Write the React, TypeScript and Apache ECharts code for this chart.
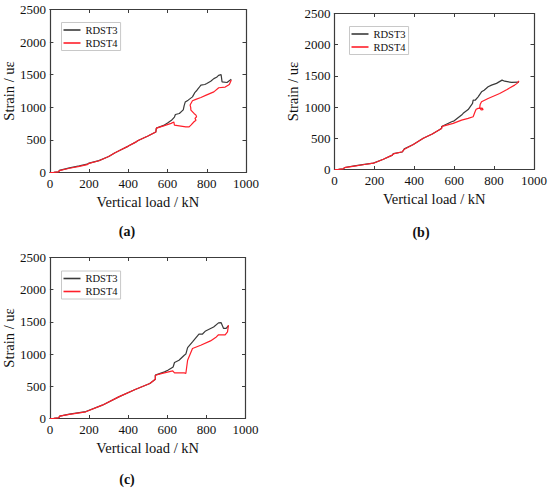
import React, { useEffect, useRef } from "react";
import * as echarts from "echarts";

const seriesNames = ["RDST3", "RDST4"];
const panelLabels = ["(a)", "(b)", "(c)"];
const xTitle = "Vertical load / kN";
const yTitle = "Strain / uε";

// Panel (a): [load kN, strain]
const rdst3A = [
  [0, 0], [20, 3], [45, 10], [48, 32], [100, 72], [150, 102], [190, 128], [200, 145], [250, 182],
  [300, 245], [330, 300], [350, 330], [400, 405], [440, 470], [450, 490], [500, 560], [540, 620],
  [543, 680], [580, 722], [600, 760], [620, 800], [635, 850], [640, 890], [660, 905], [680, 960],
  [685, 1030], [690, 1080], [705, 1110], [727, 1160], [740, 1230], [750, 1262], [760, 1300],
  [770, 1340], [790, 1350], [800, 1366], [820, 1400], [836, 1440], [850, 1460], [860, 1490],
  [873, 1500], [878, 1390], [903, 1380], [925, 1430],
];
const rdst4A = [
  [0, 0], [20, 3], [45, 10], [48, 30], [100, 65], [150, 95], [190, 120], [200, 140], [250, 180],
  [300, 245], [330, 300], [350, 330], [400, 405], [440, 470], [450, 490], [500, 560], [540, 620],
  [543, 680], [580, 715], [618, 753], [632, 775], [635, 727], [668, 712], [693, 700], [710, 700],
  [719, 727], [735, 778], [745, 800], [740, 830], [748, 855], [745, 880], [735, 906], [719, 957],
  [718, 1000], [715, 1034], [727, 1100], [744, 1121], [770, 1150], [800, 1190], [836, 1237],
  [861, 1300], [894, 1310], [915, 1350], [925, 1420],
];

// Panel (b)
const rdst3B = [
  [0, 0], [20, 3], [45, 10], [50, 32], [100, 58], [150, 82], [195, 103], [245, 165], [290, 230],
  [295, 255], [340, 280], [350, 330], [395, 400], [445, 500], [490, 570], [528, 640], [537, 660],
  [537, 690], [587, 765], [600, 780], [637, 872], [645, 900], [670, 960], [692, 1059], [695, 1112],
  [705, 1110], [720, 1165], [737, 1245], [750, 1270], [770, 1325], [787, 1352], [812, 1380],
  [840, 1432], [853, 1415], [887, 1395], [925, 1400],
];
const rdst4B = [
  [0, 0], [20, 3], [45, 10], [50, 30], [100, 55], [150, 80], [195, 101], [245, 165], [290, 230],
  [295, 250], [340, 285], [350, 325], [395, 400], [445, 500], [490, 570], [528, 640], [537, 659],
  [540, 690], [595, 739], [637, 792], [670, 819], [695, 845], [705, 930], [710, 965], [720, 980],
  [740, 985], [745, 960], [735, 955], [728, 990], [730, 1040], [737, 1085], [770, 1139],
  [828, 1219], [865, 1283], [903, 1352], [915, 1380], [925, 1421],
];

// Panel (c)
const rdst3C = [
  [0, 0], [20, 3], [45, 10], [50, 38], [100, 68], [184, 108], [268, 207], [352, 336], [436, 450],
  [511, 543], [539, 610], [539, 673], [586, 724], [603, 750], [630, 800], [637, 870], [660, 905],
  [687, 983], [695, 1000], [704, 1102], [729, 1190], [762, 1309], [779, 1309], [796, 1360],
  [837, 1422], [862, 1485], [875, 1490], [888, 1398], [901, 1398], [913, 1440],
];
const rdst4C = [
  [0, 0], [20, 3], [45, 10], [50, 36], [100, 65], [184, 104], [268, 207], [352, 336], [436, 450],
  [511, 543], [539, 610], [539, 672], [580, 705], [628, 739], [637, 708], [687, 708], [695, 699],
  [704, 905], [729, 1087], [771, 1138], [821, 1205], [851, 1267], [862, 1300], [896, 1300],
  [908, 1345], [913, 1449],
];

const panelData = [
  [rdst3A, rdst4A],
  [rdst3B, rdst4B],
  [rdst3C, rdst4C],
];

const xMin = 0, xMax = 1000, xStep = 200;
const yMin = 0, yMax = 2500, yStep = 500;

const FONT = "'Liberation Serif', 'Times New Roman', serif";
const AXIS_COLOR = "#3c3c3c";
const LINE_COLORS = ["#3a3a3a", "#ff1f2a"];

// layout (page pixel coordinates)
const grids = [
  { left: 47, top: 9.5, width: 199, height: 163 },
  { left: 334.5, top: 13.5, width: 200, height: 156 },
  { left: 46.5, top: 257.5, width: 199, height: 161 },
];
const legendPos = [
  { left: 61.5, top: 22.5 },
  { left: 349.5, top: 26.5 },
  { left: 61.5, top: 271 },
];
const labelPos = [
  { x: 127, y: 231 },
  { x: 421, y: 232 },
  { x: 127, y: 479 },
];

export default function App() {
  const ref = useRef<HTMLDivElement>(null);
  useEffect(() => {
    document.body.style.margin = "0";
    if (!ref.current) return;
    const chart = echarts.init(ref.current, undefined, { renderer: "svg" });

    const xAxis: any[] = [];
    const yAxis: any[] = [];
    const series: any[] = [];
    const legend: any[] = [];
    const fmt = (v: number) => String(v);

    grids.forEach((g, i) => {
      const tick = { show: true, inside: true, length: 3.5, lineStyle: { color: AXIS_COLOR, width: 1 } };
      const line = { show: true, onZero: false, lineStyle: { color: AXIS_COLOR, width: 1.2 } };
      xAxis.push({
        type: "value", gridIndex: i, min: xMin, max: xMax, interval: xStep, position: "bottom",
        axisLine: line, axisTick: tick, splitLine: { show: false },
        axisLabel: { color: "#111", fontFamily: FONT, fontSize: 13, margin: 4, formatter: fmt },
        name: xTitle, nameLocation: "middle", nameGap: 22,
        nameTextStyle: { color: "#111", fontFamily: FONT, fontSize: 14.5 },
      });
      xAxis.push({
        type: "value", gridIndex: i, min: xMin, max: xMax, interval: xStep, position: "top",
        axisLine: line, axisTick: tick, splitLine: { show: false }, axisLabel: { show: false },
      });
      yAxis.push({
        type: "value", gridIndex: i, min: yMin, max: yMax, interval: yStep, position: "left",
        axisLine: line, axisTick: tick, splitLine: { show: false },
        axisLabel: { color: "#111", fontFamily: FONT, fontSize: 13, margin: 4, formatter: fmt },
        name: yTitle, nameLocation: "middle", nameGap: 33, nameRotate: 90,
        nameTextStyle: { color: "#111", fontFamily: FONT, fontSize: 14.5 },
      });
      yAxis.push({
        type: "value", gridIndex: i, min: yMin, max: yMax, interval: yStep, position: "right",
        axisLine: line, axisTick: tick, splitLine: { show: false }, axisLabel: { show: false },
      });
      panelData[i].forEach((d, k) => {
        series.push({
          type: "line", name: seriesNames[k], data: d, xAxisIndex: i * 2, yAxisIndex: i * 2,
          symbol: "none", showSymbol: false, smooth: false,
          lineStyle: { color: LINE_COLORS[k], width: 1.2 }, itemStyle: { color: LINE_COLORS[k] },
          z: 2 + k,
        });
      });
      legend.push({
        data: seriesNames.map((n) => ({ name: n, icon: "rect" })),
        orient: "vertical", left: legendPos[i].left, top: legendPos[i].top,
        itemWidth: 17, itemHeight: 1.6, itemGap: 2, padding: [2, 3, 2, 2],
        borderColor: "#c8c8c8", borderWidth: 1,
        textStyle: { fontFamily: FONT, fontSize: 10.5, color: "#111", lineHeight: 11 },
      });
    });

    chart.setOption({
      animation: false,
      backgroundColor: "#ffffff",
      grid: grids.map((g) => ({ ...g, containLabel: false })),
      xAxis, yAxis, series, legend,
      graphic: panelLabels.map((t, i) => ({
        type: "text", x: labelPos[i].x, y: labelPos[i].y,
        style: { text: t, font: `bold 14px ${FONT}`, fill: "#111", textAlign: "center", textVerticalAlign: "middle" },
      })),
    });
    return () => chart.dispose();
  }, []);
  return <div ref={ref} style={{ width: 550, height: 489 }} />;
}
